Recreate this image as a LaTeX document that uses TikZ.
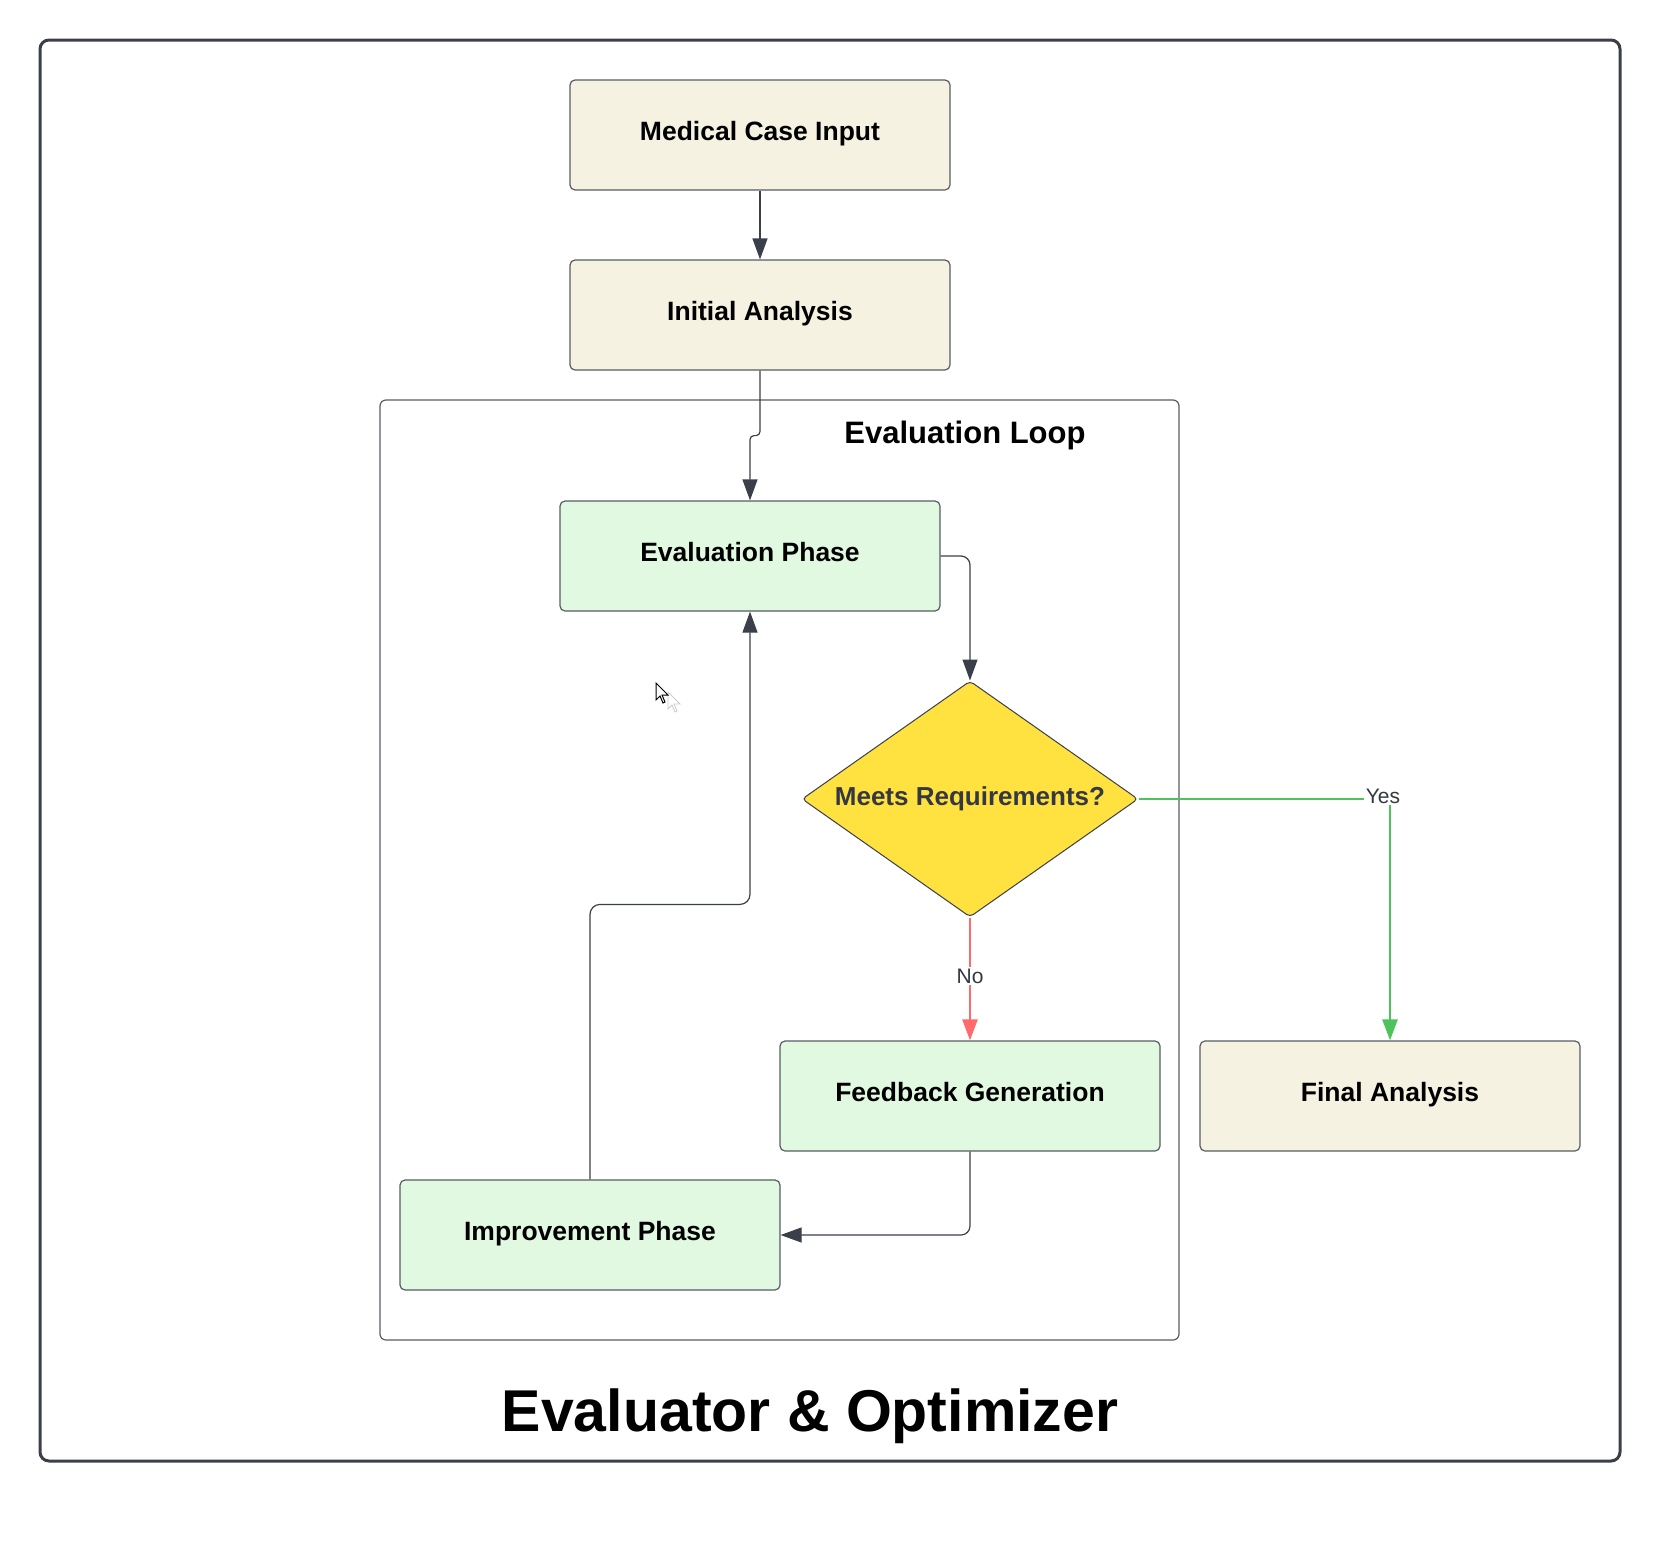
\documentclass[tikz,border=0pt]{standalone}
\usepackage{fontspec}
\setmainfont{Liberation Sans}
\usetikzlibrary{shapes.geometric, arrows.meta, positioning, calc}
\definecolor{framegray}{RGB}{59, 63, 71}
\definecolor{edgegray}{RGB}{88, 92, 100}
\definecolor{linkdark}{RGB}{58, 63, 74}
\definecolor{textgray}{RGB}{51, 56, 66}
\definecolor{beigefill}{RGB}{245, 242, 226}
\definecolor{mintfill}{RGB}{225, 249, 225}
\definecolor{decyellow}{RGB}{255, 225, 64}
\definecolor{nored}{RGB}{255, 107, 107}
\definecolor{yesgreen}{RGB}{77, 195, 90}

\begin{document}
\begin{tikzpicture}[x=1pt, y=-1pt,
  stagebox/.style={draw=edgegray, line width=1.2pt, rounded corners=5pt,
    minimum width=380pt, minimum height=110pt, inner sep=0pt,
    text height=18pt, text depth=7pt,
    font=\fontsize{26.5}{30}\selectfont\bfseries},
  decision/.style={diamond, draw=linkdark, line width=1pt, fill=decyellow,
    minimum width=336pt, minimum height=236pt, shape aspect=1.42, inner sep=0pt,
    rounded corners=4pt, text=textgray, font=\fontsize{26}{30}\selectfont\bfseries},
  link/.style={draw=linkdark, line width=1.2pt, -{Triangle[length=21pt, width=15pt]}},
  tag/.style={fill=white, inner sep=2pt, text=textgray, font=\fontsize{21}{24}\selectfont}]
  \useasboundingbox (0,0) rectangle (1660,1540);

  % outer frame and loop container
  \draw[framegray, line width=3pt, rounded corners=9pt] (40,40) rectangle (1620,1461);
  \draw[edgegray, line width=1.2pt, rounded corners=6pt] (380,400) rectangle (1179,1340);
  \node[anchor=base, font=\fontsize{31}{36}\selectfont\bfseries] (looptitle) at (965,443) {Evaluation Loop};

  \node[stagebox, fill=beigefill] (mci) at (760,135) {Medical Case Input};
  \node[stagebox, fill=beigefill] (ia) at (760,315) {Initial Analysis};
  \node[stagebox, fill=mintfill] (ep) at (750,556) {Evaluation Phase};
  \node[decision] (dec) at (970,799) {Meets Requirements?};
  \node[stagebox, fill=mintfill] (fg) at (970,1096) {Feedback Generation};
  \node[stagebox, fill=beigefill] (fa) at (1390,1096) {Final Analysis};
  \node[stagebox, fill=mintfill] (ip) at (590,1235) {Improvement Phase};

  \node[anchor=base, font=\fontsize{59}{66}\selectfont\bfseries] (title) at (810,1431) {Evaluator \& Optimizer};

  \draw[link] (mci) -- (ia);
  \draw[link, rounded corners=4pt] (ia.south) -- ++(0,65) -| (ep.north);
  \draw[link, rounded corners=9pt] (ep.east) -| (dec.north);
  \draw[link, draw=nored, line width=2.4pt, -{Triangle[length=21pt, width=15pt, fill=nored]}]
    (dec.south) -- node[tag, yshift=3pt] {No} (fg.north);
  \draw[link, draw=yesgreen, line width=2.6pt, -{Triangle[length=21pt, width=15pt, fill=yesgreen]}]
    (dec.east) -| node[tag, pos=0.5, xshift=-7pt, yshift=3pt] {Yes} (fa.north);
  \draw[link, rounded corners=9pt] (fg.south) |- (ip.east);
  \draw[link, rounded corners=10pt] (ip.north) -- ++(0,-275) -| (ep.south);

  % mouse pointer
  \draw[gray!40, line width=0.8pt, fill=white] (668,692) -- (668,709) -- (672,705) -- (675,712) -- (677,711) -- (674,704) -- (680,704) -- cycle;
  \draw[black, line width=1pt, fill=white] (656,683) -- (656,700) -- (660,696) -- (663,703) -- (665,702) -- (662,695) -- (668,695) -- cycle;
\end{tikzpicture}
\end{document}
